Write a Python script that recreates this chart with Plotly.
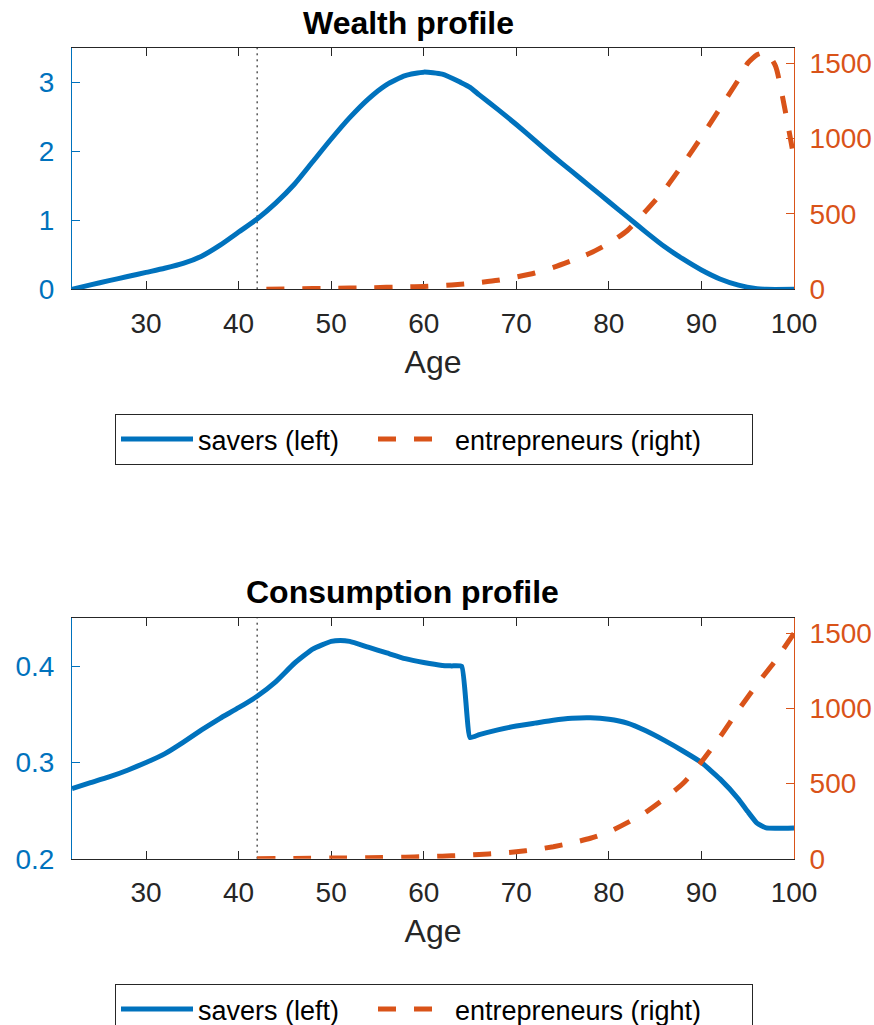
import plotly.graph_objects as go

BLUE = "#0072BD"
ORANGE = "#D95319"
DARK = "#262626"
FONT = "Liberation Sans, Arial, Helvetica, sans-serif"

# ---- Wealth profile ----
wealth_saver_age = [22, 24, 26, 28, 30, 32, 34, 36, 38, 40, 42, 44, 46, 48, 50,
                    52, 54, 56, 58, 60, 62, 64, 65, 66, 68, 70, 72, 74, 76, 78,
                    80, 82, 84, 86, 88, 90, 92, 94, 96, 97, 100]
wealth_saver = [0.00, 0.065, 0.125, 0.185, 0.245, 0.305, 0.375, 0.48, 0.64, 0.83,
                1.02, 1.25, 1.52, 1.85, 2.18, 2.49, 2.76, 2.97, 3.10, 3.15, 3.12,
                3.00, 2.93, 2.82, 2.61, 2.39, 2.16, 1.93, 1.71, 1.49, 1.27, 1.05,
                0.83, 0.62, 0.44, 0.28, 0.15, 0.06, 0.01, 0.00, 0.00]

wealth_entre_age = [43, 46, 50, 54, 58, 60, 62, 64, 66, 68, 70, 72, 74, 76, 78,
                    80, 82, 84, 86, 88, 90, 92, 94, 95, 96, 97, 98, 99, 100]
wealth_entre = [0, 3, 6, 10, 16, 19, 25, 33, 45, 60, 82, 108, 145, 190, 240,
                305, 390, 520, 660, 830, 1010, 1200, 1390, 1500, 1555, 1570,
                1480, 1200, 870]

# ---- Consumption profile ----
cons_saver_age = [22, 24, 26, 28, 30, 32, 34, 36, 38, 40, 42, 44, 46, 48, 50, 51,
                  52, 54, 56, 58, 60, 62, 63, 64.1, 65, 66, 68, 70, 72, 74, 76,
                  78, 80, 82, 84, 86, 88, 90, 92, 94, 95, 96, 97, 100]
cons_saver = [0.273, 0.279, 0.285, 0.292, 0.300, 0.309, 0.321, 0.334, 0.346,
              0.357, 0.369, 0.384, 0.403, 0.418, 0.426, 0.427, 0.426, 0.420,
              0.414, 0.408, 0.404, 0.401, 0.4005, 0.400, 0.326, 0.329, 0.334,
              0.338, 0.341, 0.344, 0.346, 0.3465, 0.345, 0.341, 0.333, 0.323,
              0.312, 0.300, 0.283, 0.262, 0.249, 0.237, 0.232, 0.232]

cons_entre_age = [42, 46, 50, 54, 58, 60, 62, 64, 66, 68, 70, 72, 74, 76, 78,
                  80, 82, 84, 86, 88, 90, 92, 94, 96, 98, 100]
cons_entre = [0, 2, 4, 6, 10, 13, 17, 22, 28, 36, 46, 60, 80, 105, 136,
              178, 240, 310, 400, 500, 645, 810, 990, 1160, 1320, 1500]

age_ticks = [30, 40, 50, 60, 70, 80, 90, 100]
age_range = [22, 100]
entry_age = 42

W, H = 874, 1025
xdom = [72 / W, 794 / W]
top_dom = [1 - 289.3 / H, 1 - 48 / H]
bot_dom = [1 - 858.7 / H, 1 - 618.3 / H]

fig = go.Figure()

line_w = 5
dash = "18px,18px"
smooth = 0.6

fig.add_trace(go.Scatter(x=wealth_saver_age, y=wealth_saver, xaxis="x", yaxis="y",
                         mode="lines", name="savers (left)", legend="legend",
                         legendwidth=170,
                         line=dict(color=BLUE, width=line_w, shape="spline",
                                   smoothing=smooth)))
fig.add_trace(go.Scatter(x=wealth_entre_age, y=wealth_entre, xaxis="x", yaxis="y2",
                         mode="lines", name="entrepreneurs (right)", legend="legend",
                         legendwidth=292,
                         line=dict(color=ORANGE, width=line_w, dash=dash,
                                   shape="spline", smoothing=smooth)))
fig.add_trace(go.Scatter(x=cons_saver_age, y=cons_saver, xaxis="x2", yaxis="y3",
                         mode="lines", name="savers (left)", legend="legend2",
                         legendwidth=170,
                         line=dict(color=BLUE, width=line_w, shape="spline",
                                   smoothing=0.4)))
fig.add_trace(go.Scatter(x=cons_entre_age, y=cons_entre, xaxis="x2", yaxis="y4",
                         mode="lines", name="entrepreneurs (right)", legend="legend2",
                         legendwidth=292,
                         line=dict(color=ORANGE, width=line_w, dash=dash,
                                   shape="spline", smoothing=smooth)))


def x_axis(anchor):
    return dict(domain=xdom, anchor=anchor, range=age_range, tickvals=age_ticks,
                ticks="inside", ticklen=8, tickwidth=1, tickcolor=DARK,
                showline=True, linecolor=DARK, linewidth=1, mirror="ticks",
                showgrid=False, zeroline=False, layer="below traces",
                automargin=False,
                tickfont=dict(family=FONT, size=28, color=DARK),
                ticklabelstandoff=9,
                title=dict(text="Age", font=dict(family=FONT, size=32, color=DARK),
                           standoff=12))


def y_left(dom, anchor, rng, ticks):
    return dict(domain=dom, anchor=anchor, range=rng, tickvals=ticks,
                ticks="inside", ticklen=8, tickwidth=1, tickcolor=BLUE,
                showline=True, linecolor=BLUE, linewidth=1,
                showgrid=False, zeroline=False, layer="below traces",
                automargin=False,
                tickfont=dict(family=FONT, size=28, color=BLUE),
                ticklabelstandoff=11)


def y_right(over, anchor, rng, ticks):
    return dict(overlaying=over, side="right", anchor=anchor, range=rng,
                tickvals=ticks, ticks="inside", ticklen=8, tickwidth=1,
                tickcolor=ORANGE, showline=True, linecolor=ORANGE, linewidth=1,
                showgrid=False, zeroline=False, layer="below traces",
                automargin=False,
                tickfont=dict(family=FONT, size=28, color=ORANGE),
                ticklabelstandoff=9)


def legend_box(ytop):
    return dict(x=115 / W, y=1 - ytop / H, xanchor="left", yanchor="top",
                orientation="h", bordercolor=DARK, borderwidth=1, bgcolor="white",
                itemwidth=72, font=dict(family=FONT, size=27, color="black"))


fig.update_layout(
    width=W, height=H, autosize=False,
    margin=dict(l=0, r=0, t=0, b=0, autoexpand=False),
    paper_bgcolor="white", plot_bgcolor="white",
    font=dict(family=FONT),
    xaxis=x_axis("y"),
    yaxis=y_left(top_dom, "x", [0, 3.5], [0, 1, 2, 3]),
    yaxis2=y_right("y", "x", [0, 1600], [0, 500, 1000, 1500]),
    xaxis2=x_axis("y3"),
    yaxis3=y_left(bot_dom, "x2", [0.2, 0.45], [0.2, 0.3, 0.4]),
    yaxis4=y_right("y3", "x2", [0, 1600], [0, 500, 1000, 1500]),
    legend=legend_box(414),
    legend2=legend_box(984),
    showlegend=True,
)

# entry-age marker in both panels
for xref, yref in (("x", "y domain"), ("x2", "y3 domain")):
    fig.add_shape(type="line", xref=xref, yref=yref, x0=entry_age, x1=entry_age,
                  y0=0, y1=1, line=dict(color="black", width=1, dash="2px,4px"),
                  layer="below")

fig.add_annotation(text="<b>Wealth profile</b>", xref="paper", yref="paper",
                   x=408 / W, y=1 - 23 / H, xanchor="center", yanchor="middle",
                   showarrow=False, font=dict(family=FONT, size=32, color="black"))
fig.add_annotation(text="<b>Consumption profile</b>", xref="paper", yref="paper",
                   x=402 / W, y=1 - 592 / H, xanchor="center", yanchor="middle",
                   showarrow=False, font=dict(family=FONT, size=32, color="black"))

fig.write_html("out.html")
